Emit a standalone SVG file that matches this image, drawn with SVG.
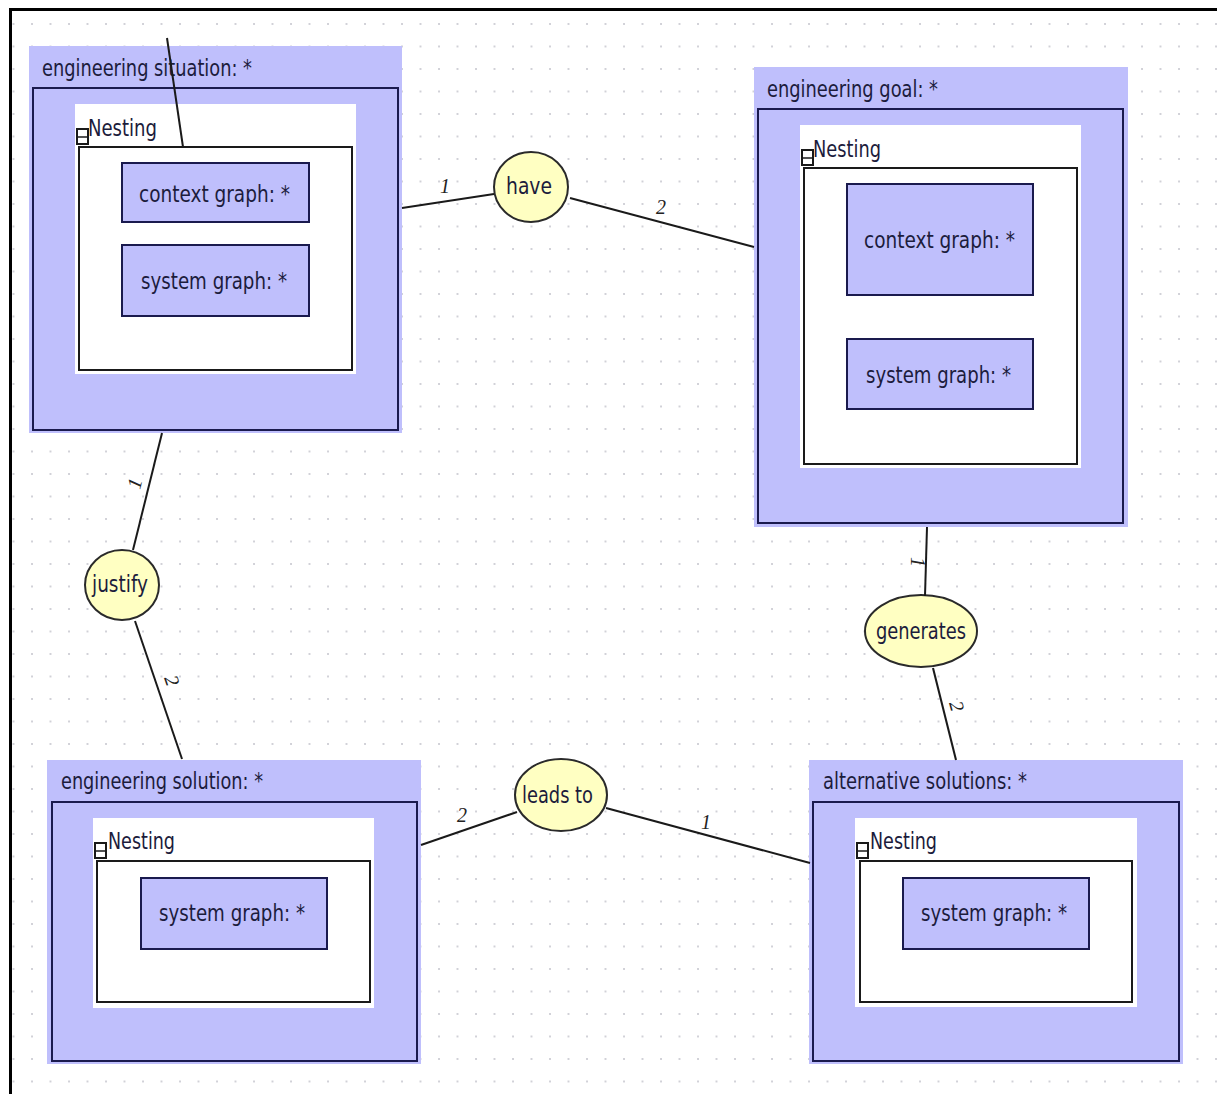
<svg xmlns="http://www.w3.org/2000/svg" width="1217" height="1094" viewBox="0 0 1217 1094">
<defs>
<pattern id="grid" patternUnits="userSpaceOnUse" x="12.5" y="0.5" width="18.5" height="22.5">
<circle cx="1" cy="1" r="1" fill="#c4c4cc"/>
</pattern>
<style>
.outer{fill:#bfbffc;}
.inner{fill:#bfbffc;stroke:#1a1a4e;stroke-width:2;}
.nestbg{fill:#ffffff;}
.nest{fill:#ffffff;stroke:#1a1a1a;stroke-width:2;}
.box{fill:#bfbffc;stroke:#1a1a4e;stroke-width:2;}
.tog{fill:#ffffff;stroke:#1a1a1a;stroke-width:2;}
.rel{fill:#ffffc2;stroke:#2a2a2a;stroke-width:2;}
.t{font-family:"DejaVu Sans Condensed","Liberation Sans",sans-serif;font-size:23px;fill:#1c1c3c;}
.lbl{font-family:"Liberation Serif",serif;font-style:italic;font-size:20px;fill:#222;}
.ln{stroke:#1a1a1a;stroke-width:2;fill:none;}
</style>
</defs>
<rect width="1217" height="1094" fill="#ffffff"/>
<rect x="11" y="10" width="1206" height="1084" fill="url(#grid)"/>
<path d="M10.5,1094 V9.5 H1217" fill="none" stroke="#000" stroke-width="3"/>

<g id="engineering-situation">
<rect class="outer" x="29" y="46" width="373" height="387"/>
<text class="t" x="42" y="76" textLength="210" lengthAdjust="spacingAndGlyphs">engineering situation: *</text>
<rect class="inner" x="33" y="88" width="365" height="342"/>
<rect class="nestbg" x="75" y="104" width="281" height="270"/>
<rect class="nest" x="79" y="147" width="273" height="223"/>
<rect class="tog" x="77" y="129" width="11" height="15"/>
<line x1="77" y1="137" x2="88" y2="137" stroke="#1a1a1a" stroke-width="1.5"/>
<text class="t" x="88" y="136" textLength="69" lengthAdjust="spacingAndGlyphs">Nesting</text>
<rect class="box" x="122" y="163" width="187" height="59"/>
<text class="t" x="139" y="202" textLength="151" lengthAdjust="spacingAndGlyphs">context graph: *</text>
<rect class="box" x="122" y="245" width="187" height="71"/>
<text class="t" x="141" y="289" textLength="146" lengthAdjust="spacingAndGlyphs">system graph: *</text>
</g>

<g id="engineering-goal">
<rect class="outer" x="754" y="67" width="374" height="460"/>
<text class="t" x="767" y="97" textLength="171" lengthAdjust="spacingAndGlyphs">engineering goal: *</text>
<rect class="inner" x="758" y="109" width="365" height="414"/>
<rect class="nestbg" x="800" y="125" width="281" height="343"/>
<rect class="nest" x="804" y="168" width="273" height="296"/>
<rect class="tog" x="802" y="150" width="11" height="15"/>
<line x1="802" y1="158" x2="813" y2="158" stroke="#1a1a1a" stroke-width="1.5"/>
<text class="t" x="813" y="157" textLength="68" lengthAdjust="spacingAndGlyphs">Nesting</text>
<rect class="box" x="847" y="184" width="186" height="111"/>
<text class="t" x="864" y="248" textLength="151" lengthAdjust="spacingAndGlyphs">context graph: *</text>
<rect class="box" x="847" y="339" width="186" height="70"/>
<text class="t" x="866" y="383" textLength="145" lengthAdjust="spacingAndGlyphs">system graph: *</text>
</g>

<g id="engineering-solution">
<rect class="outer" x="47" y="760" width="374" height="304"/>
<text class="t" x="61" y="789" textLength="202" lengthAdjust="spacingAndGlyphs">engineering solution: *</text>
<rect class="inner" x="52" y="802" width="365" height="259"/>
<rect class="nestbg" x="93" y="818" width="281" height="190"/>
<rect class="nest" x="97" y="861" width="273" height="141"/>
<rect class="tog" x="95" y="843" width="11" height="15"/>
<line x1="95" y1="851" x2="106" y2="851" stroke="#1a1a1a" stroke-width="1.5"/>
<text class="t" x="108" y="849" textLength="67" lengthAdjust="spacingAndGlyphs">Nesting</text>
<rect class="box" x="141" y="878" width="186" height="71"/>
<text class="t" x="159" y="921" textLength="146" lengthAdjust="spacingAndGlyphs">system graph: *</text>
</g>

<g id="alternative-solutions">
<rect class="outer" x="809" y="760" width="374" height="304"/>
<text class="t" x="823" y="789" textLength="204" lengthAdjust="spacingAndGlyphs">alternative solutions: *</text>
<rect class="inner" x="813" y="802" width="366" height="259"/>
<rect class="nestbg" x="855" y="818" width="282" height="189"/>
<rect class="nest" x="860" y="861" width="272" height="141"/>
<rect class="tog" x="857" y="843" width="11" height="15"/>
<line x1="857" y1="851" x2="868" y2="851" stroke="#1a1a1a" stroke-width="1.5"/>
<text class="t" x="870" y="849" textLength="67" lengthAdjust="spacingAndGlyphs">Nesting</text>
<rect class="box" x="903" y="878" width="186" height="71"/>
<text class="t" x="921" y="921" textLength="146" lengthAdjust="spacingAndGlyphs">system graph: *</text>
</g>

<g id="have">
<ellipse class="rel" cx="531" cy="187" rx="37" ry="35"/>
<text class="t" x="506" y="194" textLength="46" lengthAdjust="spacingAndGlyphs">have</text>
</g>
<g id="justify">
<ellipse class="rel" cx="122" cy="585" rx="37" ry="35"/>
<text class="t" x="92" y="592" textLength="56" lengthAdjust="spacingAndGlyphs">justify</text>
</g>
<g id="generates">
<ellipse class="rel" cx="921" cy="631" rx="56" ry="36"/>
<text class="t" x="876" y="639" textLength="90" lengthAdjust="spacingAndGlyphs">generates</text>
</g>
<g id="leads-to">
<ellipse class="rel" cx="561" cy="795" rx="46" ry="36"/>
<text class="t" x="522" y="803" textLength="71" lengthAdjust="spacingAndGlyphs">leads to</text>
</g>

<g id="connectors">
<line class="ln" x1="167" y1="38" x2="183" y2="147"/>
<line class="ln" x1="402" y1="208" x2="494" y2="194"/>
<line class="ln" x1="570" y1="198" x2="754" y2="247"/>
<line class="ln" x1="162" y1="433" x2="133" y2="550"/>
<line class="ln" x1="135" y1="621" x2="182" y2="759"/>
<line class="ln" x1="927" y1="527" x2="925" y2="596"/>
<line class="ln" x1="933" y1="668" x2="956" y2="760"/>
<line class="ln" x1="421" y1="845" x2="517" y2="812"/>
<line class="ln" x1="606" y1="808" x2="810" y2="863"/>
<text class="lbl" x="440" y="193">1</text>
<text class="lbl" x="656" y="214">2</text>
<text class="lbl" transform="translate(140,490) rotate(-76)">1</text>
<text class="lbl" transform="translate(164,678) rotate(71)">2</text>
<text class="lbl" transform="translate(911,557) rotate(90)">1</text>
<text class="lbl" transform="translate(949,703) rotate(75)">2</text>
<text class="lbl" x="457" y="822">2</text>
<text class="lbl" x="701" y="829">1</text>
</g>
</svg>
